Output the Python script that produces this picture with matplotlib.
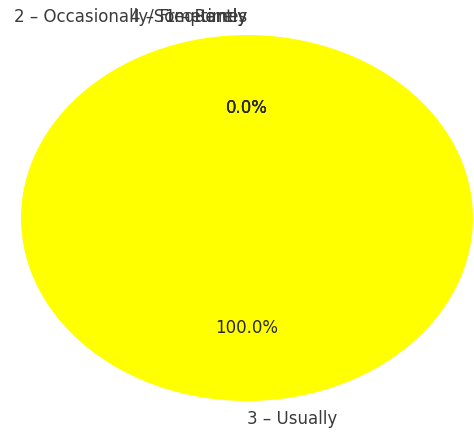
import matplotlib
matplotlib.use("Agg")
import matplotlib.pyplot as plt

plt.rcParams["font.family"] = ["DejaVu Sans"]

labels = ["1 – Rarely", "2 – Occasionally/Sometimes", "3 – Usually", "4 – Frequently"]
values = [0, 0, 100, 0]
colors = ["#1f77b4", "#ff7f0e", "#ffff00", "#2ca02c"]

fig = plt.figure(figsize=(4.74, 4.32), dpi=100)
ax = fig.add_axes([-35.5 / 474, -14.75 / 432, 565 / 474, 457.5 / 432])
wedges, texts, autotexts = ax.pie(values, labels=labels, colors=colors, autopct="%1.1f%%",
                                  startangle=90, counterclock=True,
                                  textprops={"fontsize": 12, "color": "#3a3a3a"})
ax.set_aspect("auto")
ax.set_xlim(-1.25, 1.25)
ax.set_ylim(-1.25, 1.25)
for t in texts:
    x, y = t.get_position()
    if y > 0:
        t.set_ha("right")
    else:
        t.set_ha("left")
for a in autotexts:
    a.set_fontsize(12)
    a.set_color("#2a2a2a")
fig.savefig("out.png", dpi=100)
